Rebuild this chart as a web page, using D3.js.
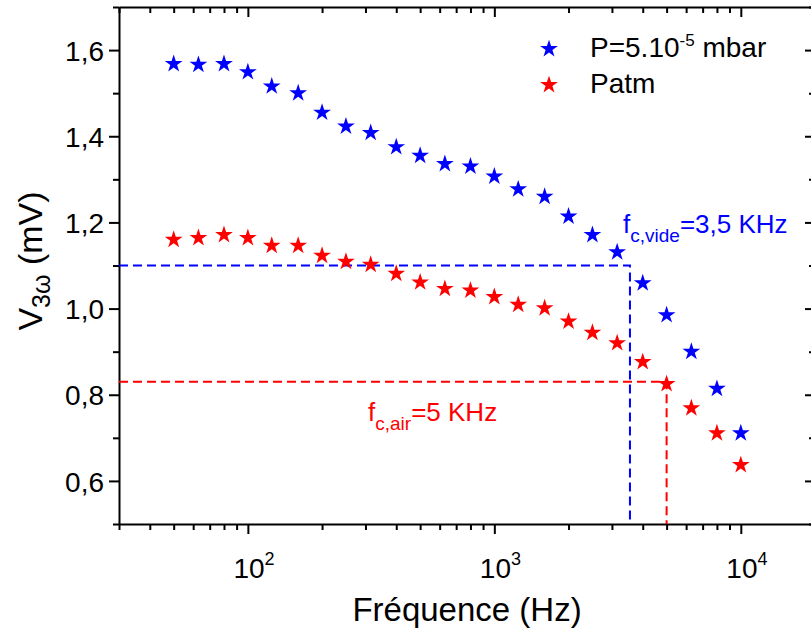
<!DOCTYPE html>
<html>
<head>
<meta charset="utf-8">
<script src="https://cdn.jsdelivr.net/npm/d3@7"></script>
<style>
  html, body { margin: 0; padding: 0; background: #fff; }
  svg { display: block; font-family: "Liberation Sans", Arial, sans-serif; }
</style>
</head>
<body>
<svg id="chart" width="811" height="630"></svg>
<script>
// ---- data ----
const frequencies = [50, 63, 80, 100, 125, 160, 200, 250, 315, 400, 500, 630, 800, 1000, 1250, 1600, 2000, 2500, 3150, 4000, 5000, 6300, 8000, 10000];
const vacuumValues = [1.568, 1.566, 1.568, 1.549, 1.516, 1.500, 1.455, 1.423, 1.408, 1.375, 1.355, 1.336, 1.330, 1.307, 1.277, 1.260, 1.214, 1.171, 1.131, 1.059, 0.985, 0.900, 0.814, 0.711];
const airValues = [1.160, 1.164, 1.171, 1.164, 1.146, 1.146, 1.123, 1.109, 1.102, 1.081, 1.061, 1.046, 1.042, 1.027, 1.009, 1.001, 0.970, 0.944, 0.920, 0.876, 0.825, 0.769, 0.711, 0.637];
const seriesNames = ["P=5.10", "Patm"];
const seriesColors = ["#0000ff", "#ff0000"];
const cutoffFreqs = [3550, 5000];
const cutoffLevels = [1.10, 0.83];
const yMajorTicks = [0.6, 0.8, 1.0, 1.2, 1.4, 1.6];
const yMinorTicks = [0.5, 0.7, 0.9, 1.1, 1.3, 1.5, 1.7];
const xMajorTicks = [100, 1000, 10000];
const xMajorExponents = ["2", "3", "4"];
const xMinorTicks = [30, 40, 50, 60, 70, 80, 90, 200, 300, 400, 500, 600, 700, 800, 900, 2000, 3000, 4000, 5000, 6000, 7000, 8000, 9000];

// ---- layout ----
const svg = d3.select("#chart");
const L = 119, R = 815, T = 7, B = 524;
const x = d3.scaleLog().domain([30, 20000]).range([L, R]);
const y = d3.scaleLinear().domain([0.5, 1.7]).range([B, T]);
const fmtY = d => d3.format(".1f")(d).replace(".", ",");

function styleAxis(g) {
  g.selectAll("path.domain").attr("stroke", "#000").attr("stroke-width", 2);
  g.selectAll(".tick line").attr("stroke", "#000").attr("stroke-width", 2);
  g.selectAll("text").attr("fill", "#000");
}

// left axis
const gl = svg.append("g").attr("transform", `translate(${L},0)`)
  .call(d3.axisLeft(y).tickValues(yMajorTicks).tickSize(10).tickSizeOuter(0).tickPadding(5).tickFormat(fmtY));
gl.selectAll("text").attr("font-size", 28).attr("dy", "0.36em");
styleAxis(gl);
const glm = svg.append("g").attr("transform", `translate(${L},0)`)
  .call(d3.axisLeft(y).tickValues(yMinorTicks).tickSize(6).tickFormat(""));
glm.select("path.domain").remove();
styleAxis(glm);

// right axis (ticks inward)
const gr = svg.append("g").attr("transform", `translate(${R},0)`)
  .call(d3.axisLeft(y).tickValues(yMajorTicks).tickSize(10).tickSizeOuter(0).tickFormat(""));
styleAxis(gr);
const grm = svg.append("g").attr("transform", `translate(${R},0)`)
  .call(d3.axisLeft(y).tickValues(yMinorTicks).tickSize(6).tickFormat(""));
grm.select("path.domain").remove();
styleAxis(grm);

// bottom axis
const gb = svg.append("g").attr("transform", `translate(0,${B})`)
  .call(d3.axisBottom(x).tickValues(xMajorTicks).tickSize(10).tickSizeOuter(0).tickFormat(""));
styleAxis(gb);
gb.selectAll(".tick").each(function(d, i) {
  const t = d3.select(this).append("text")
    .attr("y", 54).attr("text-anchor", "middle").attr("font-size", 28).attr("fill", "#000")
    .attr("dx", "0.2em");
  t.append("tspan").text("10");
  t.append("tspan").attr("font-size", 18).attr("dy", -13).text(xMajorExponents[i]);
});
const gbm = svg.append("g").attr("transform", `translate(0,${B})`)
  .call(d3.axisBottom(x).tickValues(xMinorTicks).tickSize(6).tickFormat(""));
gbm.select("path.domain").remove();
styleAxis(gbm);

// top axis (ticks inward)
const gt = svg.append("g").attr("transform", `translate(0,${T})`)
  .call(d3.axisBottom(x).tickValues(xMajorTicks).tickSize(10).tickSizeOuter(0).tickFormat(""));
styleAxis(gt);
const gtm = svg.append("g").attr("transform", `translate(0,${T})`)
  .call(d3.axisBottom(x).tickValues(xMinorTicks).tickSize(6).tickFormat(""));
gtm.select("path.domain").remove();
styleAxis(gtm);

// cutoff dashed lines
const line = d3.line();
cutoffFreqs.forEach((f, i) => {
  svg.append("path")
    .attr("d", line([[L, y(cutoffLevels[i])], [x(f), y(cutoffLevels[i])], [x(f), B]]))
    .attr("fill", "none").attr("stroke", seriesColors[i]).attr("stroke-width", 2)
    .attr("stroke-dasharray", "9,5");
});

// stars
const star = d3.symbol().type(d3.symbolStar).size(98);
[vacuumValues, airValues].forEach((vals, si) => {
  svg.append("g").selectAll("path").data(vals).join("path")
    .attr("d", star)
    .attr("transform", (d, i) => `translate(${x(frequencies[i])},${y(d)})`)
    .attr("fill", seriesColors[si]);
});

// legend
const lg = svg.append("g");
seriesNames.forEach((name, i) => {
  const cy = 49 + i * 36;
  lg.append("path").attr("d", star).attr("transform", `translate(549,${cy})`).attr("fill", seriesColors[i]);
  const t = lg.append("text").attr("x", 590).attr("y", cy + 8).attr("font-size", 28).attr("fill", "#000");
  t.append("tspan").text(name);
  if (i === 0) {
    t.append("tspan").attr("font-size", 17).attr("dy", -11).text("-5");
    t.append("tspan").attr("dy", 11).text(" mbar");
  }
});

// annotations
function annot(xp, yp, sub, rest, color) {
  const t = svg.append("text").attr("x", xp).attr("y", yp).attr("font-size", 26).attr("fill", color);
  t.append("tspan").text("f");
  t.append("tspan").attr("font-size", 19).attr("dy", 9).text(sub);
  t.append("tspan").attr("dy", -9).text(rest);
}
annot(623, 233, "c,vide", "=3,5 KHz", seriesColors[0]);
annot(368, 421, "c,air", "=5 KHz", seriesColors[1]);

// axis titles
svg.append("text").attr("x", 467).attr("y", 621).attr("text-anchor", "middle")
  .attr("font-size", 33).attr("fill", "#000").text("Fréquence (Hz)");
const yt = svg.append("text").attr("transform", "translate(42,261) rotate(-90)")
  .attr("text-anchor", "middle").attr("font-size", 34).attr("fill", "#000");
yt.append("tspan").text("V");
yt.append("tspan").attr("font-size", 25).attr("dy", 8).text("3ω");
yt.append("tspan").attr("dy", -8).text(" (mV)");
</script>
</body>
</html>
